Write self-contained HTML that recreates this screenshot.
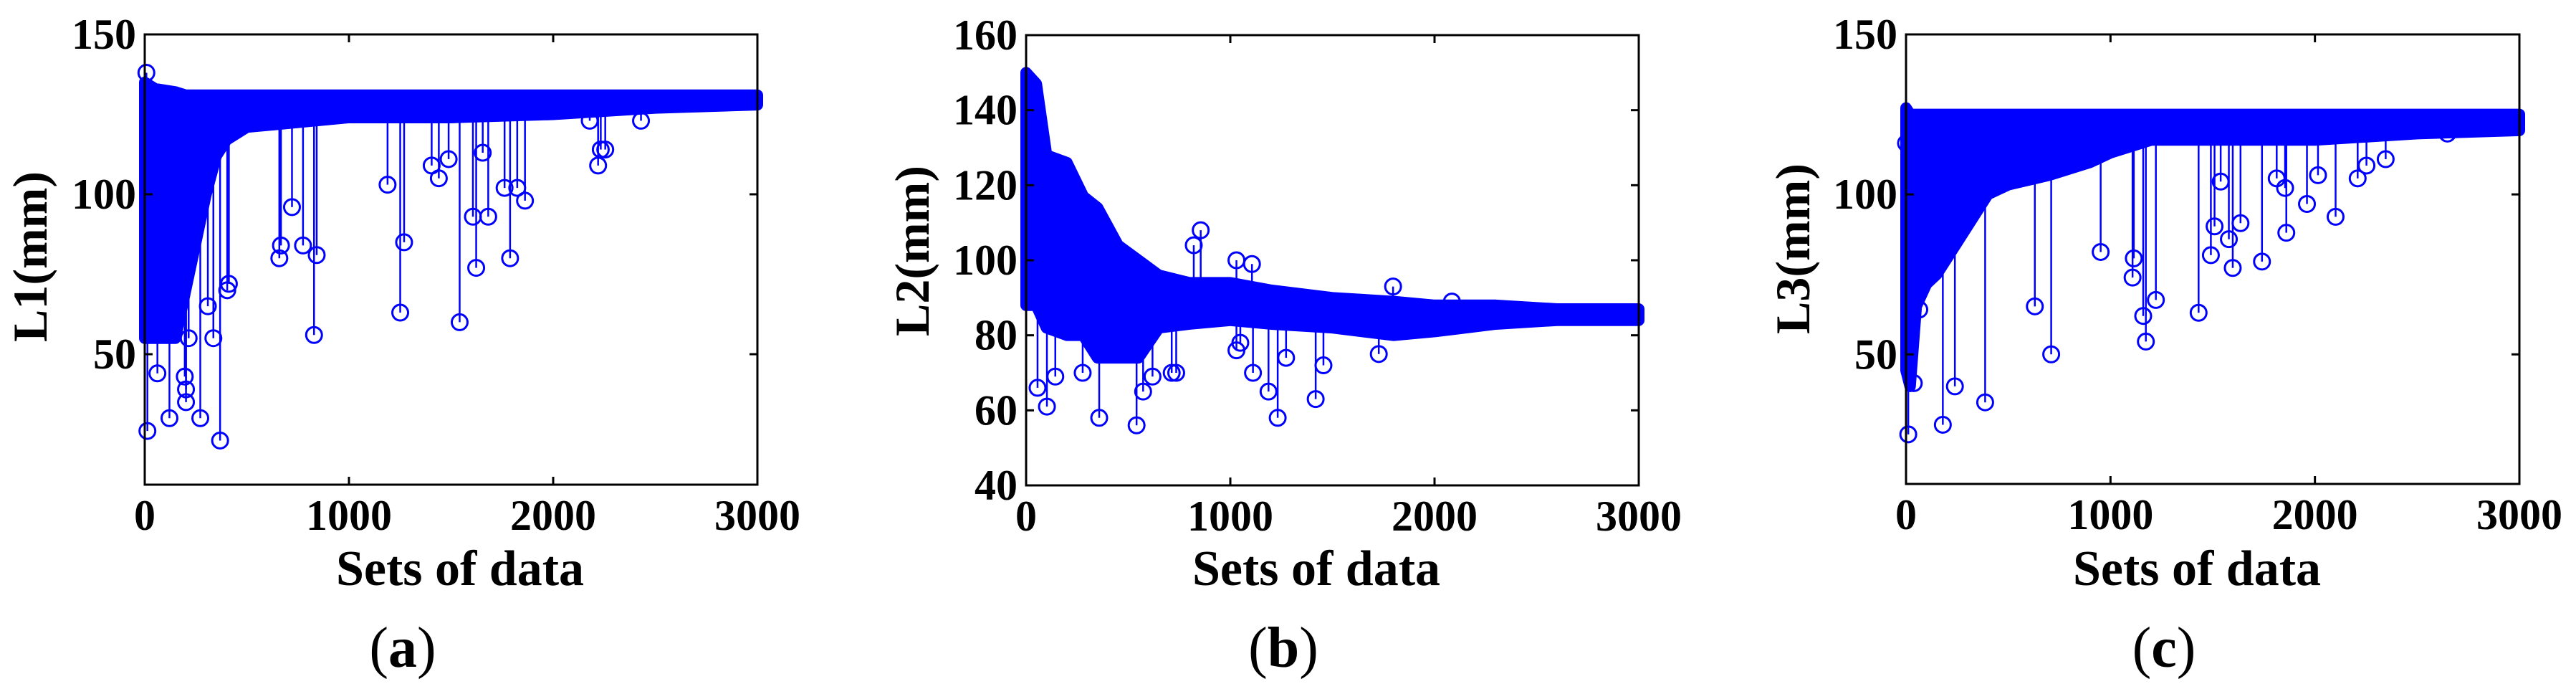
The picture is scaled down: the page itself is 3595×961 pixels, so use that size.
<!DOCTYPE html>
<html><head><meta charset="utf-8"><style>
html,body{margin:0;padding:0;background:#fff;}
svg{display:block;}
text{font-family:"Liberation Serif",serif;fill:#000;}
</style></head><body>
<svg id="fig" width="3595" height="961" viewBox="0 0 3595 961" xmlns="http://www.w3.org/2000/svg"></svg>
<script>
// Panel (a) L1
const aBandX = [0, 50, 150, 200, 250, 300, 350, 400, 500, 1000, 1500, 2000, 2500, 3000];
const aBandLow = [55, 55, 55, 70, 85, 100, 112, 117, 121, 124, 124, 125, 127, 128];
const aBandHigh = [135, 133, 132, 131, 131, 131, 131, 131, 131, 131, 131, 131, 131, 131];
const aOutX = [8, 13, 62, 121, 196, 202, 202, 215, 272, 309, 336, 369, 404, 412, 659, 667, 721, 775, 829, 842, 1189, 1251, 1270, 1405, 1440, 1488, 1542, 1607, 1623, 1655, 1682, 1762, 1789, 1824, 1862, 2179, 2220, 2233, 2255, 2430];
const aOutY = [138, 26, 44, 30, 43, 39, 35, 55, 30, 65, 55, 23, 70, 72, 80, 84, 96, 84, 56, 81, 103, 63, 85, 109, 105, 111, 60, 93, 77, 113, 93, 102, 80, 102, 98, 123, 109, 114, 114, 123];
const aYTicks = [50, 100, 150];
// Panel (b) L2
const bBandX = [0, 50, 100, 200, 280, 350, 450, 550, 650, 800, 1000, 1200, 1500, 1800, 2000, 2300, 2600, 3000];
const bBandLow = [88, 88, 82, 80, 80, 74, 74, 74, 82, 83, 84, 83, 82, 80, 81, 83, 84, 84];
const bBandHigh = [150, 147, 128, 126, 117, 114, 104, 100, 96, 94, 94, 92, 90, 89, 88, 88, 87, 87];
const bOutX = [56, 102, 143, 277, 358, 541, 573, 619, 713, 735, 821, 855, 1030, 1106, 1030, 1049, 1111, 1187, 1232, 1273, 1418, 1456, 1797, 2085, 1727];
const bOutY = [66, 61, 69, 70, 58, 56, 65, 69, 70, 70, 104, 108, 100, 99, 76, 78, 70, 65, 58, 74, 63, 72, 93, 89, 75];
const bYTicks = [40, 60, 80, 100, 120, 140, 160];
// Panel (c) L3
const cBandX = [0, 20, 50, 100, 150, 200, 300, 400, 500, 700, 900, 1000, 1200, 1500, 2000, 2500, 3000];
const cBandLow = [45, 40, 65, 72, 75, 80, 90, 100, 103, 106, 110, 113, 117, 117, 117, 119, 120];
const cBandHigh = [127, 125, 125, 125, 125, 125, 125, 125, 125, 125, 125, 125, 125, 125, 125, 125, 125];
const cOutX = [0, 11, 38, 65, 180, 239, 387, 630, 710, 952, 1114, 1108, 1160, 1173, 1222, 1431, 1491, 1509, 1539, 1579, 1598, 1636, 1741, 1813, 1854, 1860, 1961, 2015, 2101, 2209, 2252, 2346, 2648];
const cOutY = [116, 25, 41, 64, 28, 40, 35, 65, 50, 82, 80, 74, 62, 54, 67, 63, 81, 90, 104, 86, 77, 91, 79, 105, 102, 88, 97, 106, 93, 105, 109, 111, 119];
const cYTicks = [50, 100, 150];
const xTicks = [0, 1000, 2000, 3000];

const NS = "http://www.w3.org/2000/svg";
const svg = document.getElementById('fig');
function mk(tag, attrs, parent){
  const e = document.createElementNS(NS, tag);
  for (const k in attrs) e.setAttribute(k, attrs[k]);
  (parent||svg).appendChild(e);
  return e;
}
function interp(xs, ys, x){
  for (let i=0;i<xs.length-1;i++){
    if (x>=xs[i] && x<=xs[i+1]) return ys[i]+(ys[i+1]-ys[i])*(x-xs[i])/(xs[i+1]-xs[i]);
  }
  return ys[ys.length-1];
}
function panel(cfg){
  const g = mk('g', {});
  
  
  const sx = v => cfg.x0 + (v - 0)/(3000-0)*(cfg.x1-cfg.x0);
  const sy = v => cfg.y1 - (v - cfg.ymin)/(cfg.ymax-cfg.ymin)*(cfg.y1-cfg.y0);
  // band
  let pts = [];
  for (let i=0;i<cfg.bx.length;i++) pts.push(sx(cfg.bx[i])+','+sy(cfg.bh[i]));
  for (let i=cfg.bx.length-1;i>=0;i--) pts.push(sx(cfg.bx[i])+','+sy(cfg.bl[i]));
  const band = mk('polygon', {points: pts.join(' '), fill:'#0000ff', stroke:'#0000ff', 'stroke-width':16, 'stroke-linejoin':'round'}, g);
  
  
  // outlier stems
  for (let i=0;i<cfg.ox.length;i++){
    const x = sx(cfg.ox[i]), y = sy(cfg.oy[i]);
    const lo = interp(cfg.bx, cfg.bl, cfg.ox[i]);
    const hi = interp(cfg.bx, cfg.bh, cfg.ox[i]);
    const yEdge = cfg.oy[i] > hi ? sy(hi) : sy(lo);
    const ln = mk('line', {x1:x, x2:x, y1:yEdge, y2:y, stroke:'#0000ff', 'stroke-width':2.5}, g);
    
    
    const c = mk('circle', {cx:x, cy:y, r:11, fill:'none', stroke:'#0000ff', 'stroke-width':3}, g);
    
    
  }
  // axes box
  const box = mk('rect', {x:cfg.x0, y:cfg.y0, width:cfg.x1-cfg.x0, height:cfg.y1-cfg.y0, fill:'none', stroke:'#000', 'stroke-width':3}, g);
  
  
  // x ticks
  for (const t of xTicks){
    const x = sx(t);
    mk('line', {x1:x,x2:x,y1:cfg.y1,y2:cfg.y1-11,stroke:'#000','stroke-width':3}, g);
    mk('line', {x1:x,x2:x,y1:cfg.y0,y2:cfg.y0+11,stroke:'#000','stroke-width':3}, g);
    const tx = mk('text', {x:x, y:cfg.y1+63, 'text-anchor':'middle', 'font-size':60, 'font-weight':'bold'}, g);
    tx.textContent = t;
    
    
  }
  for (const t of cfg.yt){
    const y = sy(t);
    mk('line', {x1:cfg.x0,x2:cfg.x0+11,y1:y,y2:y,stroke:'#000','stroke-width':3}, g);
    mk('line', {x1:cfg.x1,x2:cfg.x1-11,y1:y,y2:y,stroke:'#000','stroke-width':3}, g);
    const ty = mk('text', {x:cfg.x0-12, y:y+20, 'text-anchor':'end', 'font-size':60, 'font-weight':'bold'}, g);
    ty.textContent = t;
    
    
  }
  const xl = mk('text', {x:cfg.xlx, y:816, 'text-anchor':'middle', 'font-size':70, 'font-weight':'bold'}, g);
  xl.textContent = 'Sets of data';
  
  
  const yl = mk('text', {x:0, y:0, 'text-anchor':'middle', 'font-size':68, 'font-weight':'bold', transform:'translate('+(cfg.ylx+23)+','+cfg.yly+') rotate(-90)'}, g);
  yl.textContent = cfg.ylabel;
  
  
  const cap = mk('text', {x:cfg.capx, y:930, 'text-anchor':'middle', 'font-size':80}, g);
  cap.innerHTML = '(<tspan font-weight="bold">'+cfg.cap+'</tspan>)';
  
  
}
panel({name:'panel-a', x0:202, x1:1057, y0:48, y1:676, ymin:9.2, ymax:150, bx:aBandX, bl:aBandLow, bh:aBandHigh, ox:aOutX, oy:aOutY, yt:aYTicks, ylabel:'L1(mm)', ylx:42, yly:358, xlx:642, capx:562, cap:'a'});
panel({name:'panel-b', x0:1432, x1:2287, y0:49, y1:677, ymin:40, ymax:160, bx:bBandX, bl:bBandLow, bh:bBandHigh, ox:bOutX, oy:bOutY, yt:bYTicks, ylabel:'L2(mm)', ylx:1273, yly:350, xlx:1837, capx:1791, cap:'b'});
panel({name:'panel-c', x0:2660, x1:3516, y0:48, y1:675, ymin:9.5, ymax:150, bx:cBandX, bl:cBandLow, bh:cBandHigh, ox:cOutX, oy:cOutY, yt:cYTicks, ylabel:'L3(mm)', ylx:2502, yly:347, xlx:3066, capx:3020, cap:'c'});
</script>
</body></html>
